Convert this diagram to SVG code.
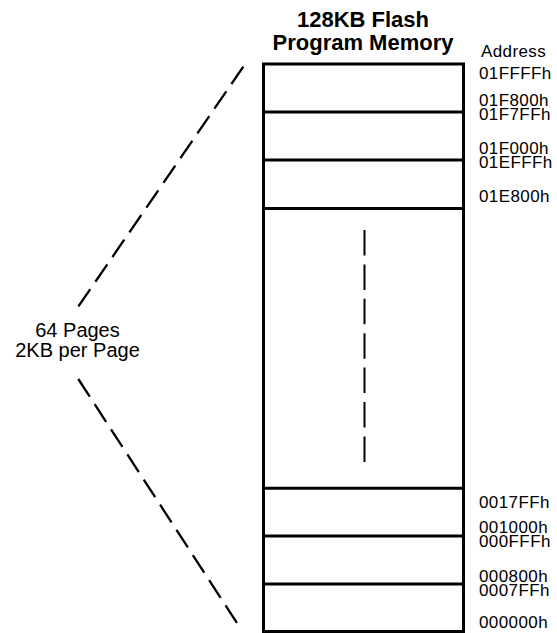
<svg xmlns="http://www.w3.org/2000/svg" width="557" height="633" viewBox="0 0 557 633">
  <style>
    .frame { fill: #ffffff; stroke: #000000; stroke-width: 3; }
    .sep { stroke: #000000; stroke-width: 3; fill: none; }
    .dash { stroke: #000000; stroke-width: 2.3; fill: none; stroke-dasharray: 21 9; }
    .vdash { stroke: #000000; stroke-width: 2; fill: none; stroke-dasharray: 25.5 8.9; }
    .title { font-family: "Liberation Sans", Arial, sans-serif; font-weight: bold; font-size: 22px; fill: #000000; text-anchor: middle; }
    .addr { font-family: "Liberation Sans", Arial, sans-serif; font-size: 17px; letter-spacing: 0.4px; fill: #000000; }
    .note { font-family: "Liberation Sans", Arial, sans-serif; font-size: 20px; fill: #000000; text-anchor: middle; }
  </style>
  <rect width="557" height="633" fill="#ffffff"/>

  <!-- Heading -->
  <g id="title">
    <text class="title" x="363" y="27">128KB Flash</text>
    <text class="title" x="363" y="50">Program Memory</text>
  </g>

  <!-- Memory column with page rows -->
  <g id="memory">
    <rect class="frame" x="263.5" y="64" width="200" height="567.5"/>
    <line class="sep" x1="263.5" y1="112" x2="463.5" y2="112"/>
    <line class="sep" x1="263.5" y1="160" x2="463.5" y2="160"/>
    <line class="sep" x1="263.5" y1="208.5" x2="463.5" y2="208.5"/>
    <line class="sep" x1="263.5" y1="488.3" x2="463.5" y2="488.3"/>
    <line class="sep" x1="263.5" y1="536" x2="463.5" y2="536"/>
    <line class="sep" x1="263.5" y1="584" x2="463.5" y2="584"/>
    <line class="vdash" x1="364.5" y1="230" x2="364.5" y2="462.5"/>
  </g>

  <!-- Address labels -->
  <g id="addresses">
    <text class="addr" x="481" y="57">Address</text>
    <text class="addr" x="479" y="79">01FFFFh</text>
    <text class="addr" x="479" y="106">01F800h</text>
    <text class="addr" x="479" y="120">01F7FFh</text>
    <text class="addr" x="479" y="154">01F000h</text>
    <text class="addr" x="479" y="168">01EFFFh</text>
    <text class="addr" x="479" y="202">01E800h</text>
    <text class="addr" x="479" y="508">0017FFh</text>
    <text class="addr" x="479" y="533">001000h</text>
    <text class="addr" x="479" y="547">000FFFh</text>
    <text class="addr" x="479" y="582">000800h</text>
    <text class="addr" x="479" y="596">0007FFh</text>
    <text class="addr" x="479" y="628">000000h</text>
  </g>

  <!-- Page count note -->
  <g id="pages-note">
    <text class="note" x="77.5" y="337">64 Pages</text>
    <text class="note" x="77.5" y="357">2KB per Page</text>
  </g>

  <!-- Span indicator lines -->
  <g id="connectors">
    <line class="dash" x1="243.3" y1="66.7" x2="78" y2="307"/>
    <line class="dash" x1="78.3" y1="379" x2="238.3" y2="625"/>
  </g>
</svg>
